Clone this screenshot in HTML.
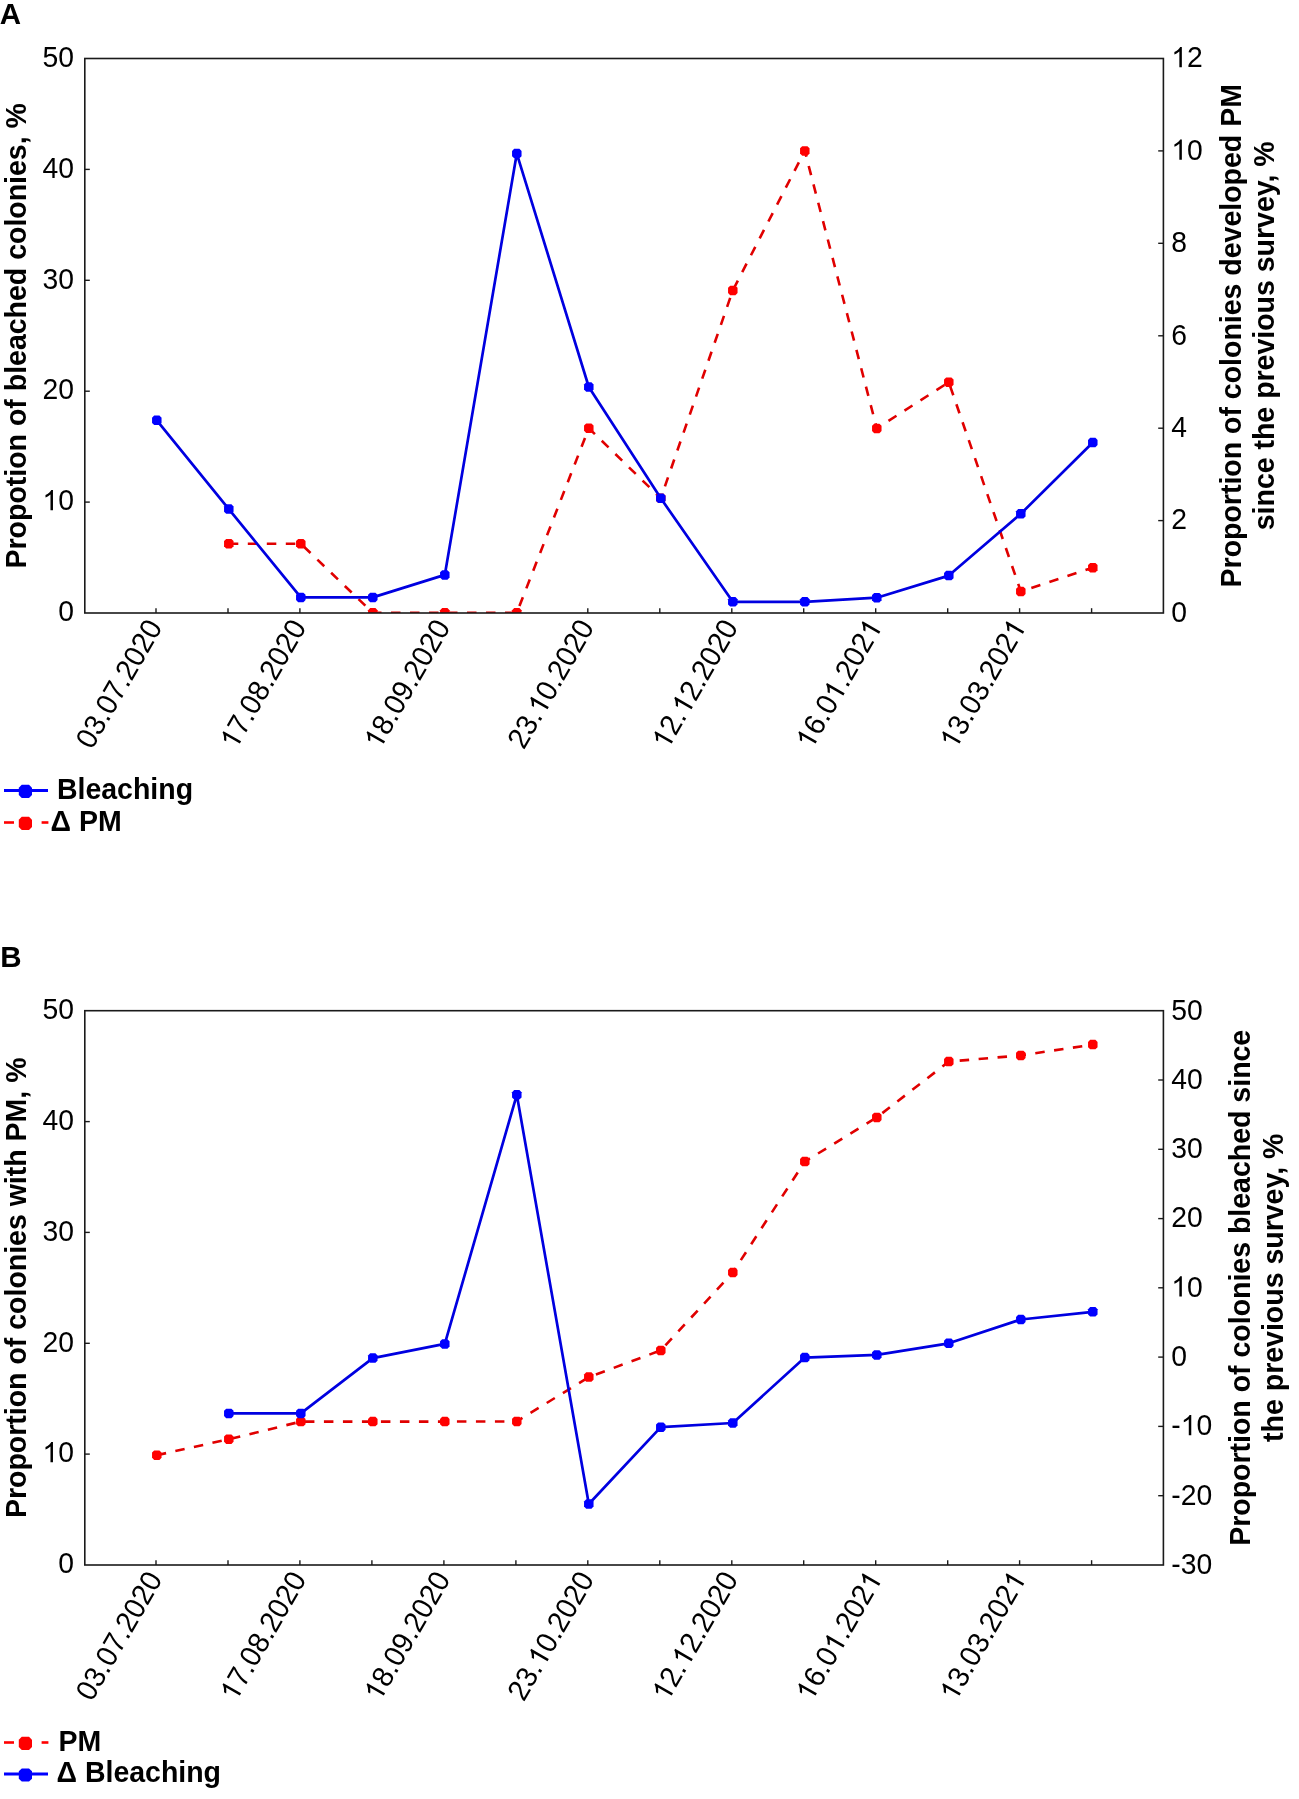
<!DOCTYPE html>
<html><head><meta charset="utf-8"><style>
html,body{margin:0;padding:0;background:#fff;}
body{width:1299px;height:1799px;overflow:hidden;}
svg{display:block;filter:blur(0.5px);}
text{font-family:"Liberation Sans",sans-serif;fill:#000;}
.r{font-size:28.3px;}
.b{font-size:28.5px;font-weight:bold;}
</style></head><body>
<svg width="1299" height="1799" viewBox="0 0 1299 1799">
<text class="b" transform="translate(-0.3,24) scale(1,1.0)" style="font-size:29.5px">A</text>
<text class="b" transform="translate(0.2,966.9) scale(1,1.0)" style="font-size:29.5px">B</text>
<clipPath id="ca"><rect x="85.0" y="58.5" width="1078.0" height="554.5"/></clipPath>
<g transform="translate(73.9,621.2) scale(1,1.04)"><text class="r" x="-15.739" y="0">0</text></g>
<line x1="85.0" y1="502.1" x2="89.8" y2="502.1" stroke="#1a1a1a" stroke-width="1.4"/>
<g transform="translate(73.9,510.3) scale(1,1.04)"><text class="r" x="-31.478" y="0"> 0</text><path d="M763,0L583,0L583,1147Q518,1085 412.5,1023Q307,961 223,930L223,1104Q374,1175 487,1276Q600,1377 643,1466L763,1466Z" transform="translate(-31.478,0) scale(0.01382,-0.01328)"/></g>
<line x1="85.0" y1="391.2" x2="89.8" y2="391.2" stroke="#1a1a1a" stroke-width="1.4"/>
<g transform="translate(73.9,399.4) scale(1,1.04)"><text class="r" x="-31.478" y="0">20</text></g>
<line x1="85.0" y1="280.3" x2="89.8" y2="280.3" stroke="#1a1a1a" stroke-width="1.4"/>
<g transform="translate(73.9,288.5) scale(1,1.04)"><text class="r" x="-31.478" y="0">30</text></g>
<line x1="85.0" y1="169.4" x2="89.8" y2="169.4" stroke="#1a1a1a" stroke-width="1.4"/>
<g transform="translate(73.9,177.6) scale(1,1.04)"><text class="r" x="-31.478" y="0">40</text></g>
<g transform="translate(73.9,66.7) scale(1,1.04)"><text class="r" x="-31.478" y="0">50</text></g>
<g transform="translate(1171.3,621.8) scale(1,1.04)"><text class="r" x="0.000" y="0">0</text></g>
<line x1="1158.2" y1="520.6" x2="1163.0" y2="520.6" stroke="#1a1a1a" stroke-width="1.4"/>
<g transform="translate(1171.3,529.4) scale(1,1.04)"><text class="r" x="0.000" y="0">2</text></g>
<line x1="1158.2" y1="428.2" x2="1163.0" y2="428.2" stroke="#1a1a1a" stroke-width="1.4"/>
<g transform="translate(1171.3,437.0) scale(1,1.04)"><text class="r" x="0.000" y="0">4</text></g>
<line x1="1158.2" y1="335.8" x2="1163.0" y2="335.8" stroke="#1a1a1a" stroke-width="1.4"/>
<g transform="translate(1171.3,344.6) scale(1,1.04)"><text class="r" x="0.000" y="0">6</text></g>
<line x1="1158.2" y1="243.3" x2="1163.0" y2="243.3" stroke="#1a1a1a" stroke-width="1.4"/>
<g transform="translate(1171.3,252.1) scale(1,1.04)"><text class="r" x="0.000" y="0">8</text></g>
<line x1="1158.2" y1="150.9" x2="1163.0" y2="150.9" stroke="#1a1a1a" stroke-width="1.4"/>
<g transform="translate(1171.3,159.7) scale(1,1.04)"><text class="r" x="0.000" y="0"> 0</text><path d="M763,0L583,0L583,1147Q518,1085 412.5,1023Q307,961 223,930L223,1104Q374,1175 487,1276Q600,1377 643,1466L763,1466Z" transform="translate(0.000,0) scale(0.01382,-0.01328)"/></g>
<g transform="translate(1171.3,67.3) scale(1,1.04)"><text class="r" x="0.000" y="0"> 2</text><path d="M763,0L583,0L583,1147Q518,1085 412.5,1023Q307,961 223,930L223,1104Q374,1175 487,1276Q600,1377 643,1466L763,1466Z" transform="translate(0.000,0) scale(0.01382,-0.01328)"/></g>
<line x1="156.0" y1="613.0" x2="156.0" y2="608.2" stroke="#1a1a1a" stroke-width="1.4"/>
<line x1="228.0" y1="613.0" x2="228.0" y2="608.2" stroke="#1a1a1a" stroke-width="1.4"/>
<line x1="299.9" y1="613.0" x2="299.9" y2="608.2" stroke="#1a1a1a" stroke-width="1.4"/>
<line x1="371.9" y1="613.0" x2="371.9" y2="608.2" stroke="#1a1a1a" stroke-width="1.4"/>
<line x1="443.9" y1="613.0" x2="443.9" y2="608.2" stroke="#1a1a1a" stroke-width="1.4"/>
<line x1="515.9" y1="613.0" x2="515.9" y2="608.2" stroke="#1a1a1a" stroke-width="1.4"/>
<line x1="587.8" y1="613.0" x2="587.8" y2="608.2" stroke="#1a1a1a" stroke-width="1.4"/>
<line x1="659.8" y1="613.0" x2="659.8" y2="608.2" stroke="#1a1a1a" stroke-width="1.4"/>
<line x1="731.8" y1="613.0" x2="731.8" y2="608.2" stroke="#1a1a1a" stroke-width="1.4"/>
<line x1="803.7" y1="613.0" x2="803.7" y2="608.2" stroke="#1a1a1a" stroke-width="1.4"/>
<line x1="875.7" y1="613.0" x2="875.7" y2="608.2" stroke="#1a1a1a" stroke-width="1.4"/>
<line x1="947.7" y1="613.0" x2="947.7" y2="608.2" stroke="#1a1a1a" stroke-width="1.4"/>
<line x1="1019.6" y1="613.0" x2="1019.6" y2="608.2" stroke="#1a1a1a" stroke-width="1.4"/>
<line x1="1091.6" y1="613.0" x2="1091.6" y2="608.2" stroke="#1a1a1a" stroke-width="1.4"/>
<path d="M228.8,543.7 L300.8,543.7 L372.8,612.8 L444.8,612.8 L516.8,612.8 L588.8,428.2 L660.8,498.3 L732.8,290.4 L804.8,150.9 L876.8,428.4 L948.8,382.2 L1020.8,591.4 L1092.8,567.7" fill="none" stroke="#e00000" stroke-width="2.6" stroke-dasharray="9.5 9.5" clip-path="url(#ca)"/>
<path d="M226.19,538.95 L231.41,538.95 L233.55,541.09 L233.55,546.31 L231.41,548.45 L226.19,548.45 L224.05,546.31 L224.05,541.09Z" fill="#ff0000" clip-path="url(#ca)"/>
<path d="M298.19,538.95 L303.41,538.95 L305.55,541.09 L305.55,546.31 L303.41,548.45 L298.19,548.45 L296.05,546.31 L296.05,541.09Z" fill="#ff0000" clip-path="url(#ca)"/>
<path d="M370.19,608.05 L375.41,608.05 L377.55,610.19 L377.55,615.41 L375.41,617.55 L370.19,617.55 L368.05,615.41 L368.05,610.19Z" fill="#ff0000" clip-path="url(#ca)"/>
<path d="M442.19,608.05 L447.41,608.05 L449.55,610.19 L449.55,615.41 L447.41,617.55 L442.19,617.55 L440.05,615.41 L440.05,610.19Z" fill="#ff0000" clip-path="url(#ca)"/>
<path d="M514.19,608.05 L519.41,608.05 L521.55,610.19 L521.55,615.41 L519.41,617.55 L514.19,617.55 L512.05,615.41 L512.05,610.19Z" fill="#ff0000" clip-path="url(#ca)"/>
<path d="M586.19,423.45 L591.41,423.45 L593.55,425.59 L593.55,430.81 L591.41,432.95 L586.19,432.95 L584.05,430.81 L584.05,425.59Z" fill="#ff0000" clip-path="url(#ca)"/>
<path d="M658.19,493.55 L663.41,493.55 L665.55,495.69 L665.55,500.91 L663.41,503.05 L658.19,503.05 L656.05,500.91 L656.05,495.69Z" fill="#ff0000" clip-path="url(#ca)"/>
<path d="M730.19,285.65 L735.41,285.65 L737.55,287.79 L737.55,293.01 L735.41,295.15 L730.19,295.15 L728.05,293.01 L728.05,287.79Z" fill="#ff0000" clip-path="url(#ca)"/>
<path d="M802.19,146.15 L807.41,146.15 L809.55,148.29 L809.55,153.51 L807.41,155.65 L802.19,155.65 L800.05,153.51 L800.05,148.29Z" fill="#ff0000" clip-path="url(#ca)"/>
<path d="M874.19,423.65 L879.41,423.65 L881.55,425.79 L881.55,431.01 L879.41,433.15 L874.19,433.15 L872.05,431.01 L872.05,425.79Z" fill="#ff0000" clip-path="url(#ca)"/>
<path d="M946.19,377.45 L951.41,377.45 L953.55,379.59 L953.55,384.81 L951.41,386.95 L946.19,386.95 L944.05,384.81 L944.05,379.59Z" fill="#ff0000" clip-path="url(#ca)"/>
<path d="M1018.19,586.65 L1023.41,586.65 L1025.55,588.79 L1025.55,594.01 L1023.41,596.15 L1018.19,596.15 L1016.05,594.01 L1016.05,588.79Z" fill="#ff0000" clip-path="url(#ca)"/>
<path d="M1090.19,562.95 L1095.41,562.95 L1097.55,565.09 L1097.55,570.31 L1095.41,572.45 L1090.19,572.45 L1088.05,570.31 L1088.05,565.09Z" fill="#ff0000" clip-path="url(#ca)"/>
<path d="M156.8,420.3 L228.8,509.1 L300.8,597.4 L372.8,597.4 L444.8,574.9 L516.8,153.6 L588.8,387.0 L660.8,498.3 L732.8,601.8 L804.8,601.8 L876.8,597.7 L948.8,575.6 L1020.8,513.8 L1092.8,442.5" fill="none" stroke="#0000e0" stroke-width="2.7" stroke-linejoin="round" clip-path="url(#ca)"/>
<path d="M154.19,415.55 L159.41,415.55 L161.55,417.69 L161.55,422.91 L159.41,425.05 L154.19,425.05 L152.05,422.91 L152.05,417.69Z" fill="#0000ff" clip-path="url(#ca)"/>
<path d="M226.19,504.35 L231.41,504.35 L233.55,506.49 L233.55,511.71 L231.41,513.85 L226.19,513.85 L224.05,511.71 L224.05,506.49Z" fill="#0000ff" clip-path="url(#ca)"/>
<path d="M298.19,592.65 L303.41,592.65 L305.55,594.79 L305.55,600.01 L303.41,602.15 L298.19,602.15 L296.05,600.01 L296.05,594.79Z" fill="#0000ff" clip-path="url(#ca)"/>
<path d="M370.19,592.65 L375.41,592.65 L377.55,594.79 L377.55,600.01 L375.41,602.15 L370.19,602.15 L368.05,600.01 L368.05,594.79Z" fill="#0000ff" clip-path="url(#ca)"/>
<path d="M442.19,570.15 L447.41,570.15 L449.55,572.29 L449.55,577.51 L447.41,579.65 L442.19,579.65 L440.05,577.51 L440.05,572.29Z" fill="#0000ff" clip-path="url(#ca)"/>
<path d="M514.19,148.85 L519.41,148.85 L521.55,150.99 L521.55,156.21 L519.41,158.35 L514.19,158.35 L512.05,156.21 L512.05,150.99Z" fill="#0000ff" clip-path="url(#ca)"/>
<path d="M586.19,382.25 L591.41,382.25 L593.55,384.39 L593.55,389.61 L591.41,391.75 L586.19,391.75 L584.05,389.61 L584.05,384.39Z" fill="#0000ff" clip-path="url(#ca)"/>
<path d="M658.19,493.55 L663.41,493.55 L665.55,495.69 L665.55,500.91 L663.41,503.05 L658.19,503.05 L656.05,500.91 L656.05,495.69Z" fill="#0000ff" clip-path="url(#ca)"/>
<path d="M730.19,597.05 L735.41,597.05 L737.55,599.19 L737.55,604.41 L735.41,606.55 L730.19,606.55 L728.05,604.41 L728.05,599.19Z" fill="#0000ff" clip-path="url(#ca)"/>
<path d="M802.19,597.05 L807.41,597.05 L809.55,599.19 L809.55,604.41 L807.41,606.55 L802.19,606.55 L800.05,604.41 L800.05,599.19Z" fill="#0000ff" clip-path="url(#ca)"/>
<path d="M874.19,592.95 L879.41,592.95 L881.55,595.09 L881.55,600.31 L879.41,602.45 L874.19,602.45 L872.05,600.31 L872.05,595.09Z" fill="#0000ff" clip-path="url(#ca)"/>
<path d="M946.19,570.85 L951.41,570.85 L953.55,572.99 L953.55,578.21 L951.41,580.35 L946.19,580.35 L944.05,578.21 L944.05,572.99Z" fill="#0000ff" clip-path="url(#ca)"/>
<path d="M1018.19,509.05 L1023.41,509.05 L1025.55,511.19 L1025.55,516.41 L1023.41,518.55 L1018.19,518.55 L1016.05,516.41 L1016.05,511.19Z" fill="#0000ff" clip-path="url(#ca)"/>
<path d="M1090.19,437.75 L1095.41,437.75 L1097.55,439.89 L1097.55,445.11 L1095.41,447.25 L1090.19,447.25 L1088.05,445.11 L1088.05,439.89Z" fill="#0000ff" clip-path="url(#ca)"/>
<rect x="84.8" y="58.5" width="1078.6000000000001" height="554.5" fill="none" stroke="#1a1a1a" stroke-width="1.6"/>
<g transform="translate(163.2,627.0) rotate(-60) scale(1,1.04)"><text class="r" x="-142.639" y="0" style="font-size:28.5px">03.07.2020</text></g>
<g transform="translate(307.1,627.0) rotate(-60) scale(1,1.04)"><text class="r" x="-142.639" y="0" style="font-size:28.5px"> 7.08.2020</text><path d="M763,0L583,0L583,1147Q518,1085 412.5,1023Q307,961 223,930L223,1104Q374,1175 487,1276Q600,1377 643,1466L763,1466Z" transform="translate(-142.639,0) scale(0.01392,-0.01337)"/></g>
<g transform="translate(451.1,627.0) rotate(-60) scale(1,1.04)"><text class="r" x="-142.639" y="0" style="font-size:28.5px"> 8.09.2020</text><path d="M763,0L583,0L583,1147Q518,1085 412.5,1023Q307,961 223,930L223,1104Q374,1175 487,1276Q600,1377 643,1466L763,1466Z" transform="translate(-142.639,0) scale(0.01392,-0.01337)"/></g>
<g transform="translate(595.0,627.0) rotate(-60) scale(1,1.04)"><text class="r" x="-142.639" y="0" style="font-size:28.5px">23. 0.2020</text><path d="M763,0L583,0L583,1147Q518,1085 412.5,1023Q307,961 223,930L223,1104Q374,1175 487,1276Q600,1377 643,1466L763,1466Z" transform="translate(-103.020,0) scale(0.01392,-0.01337)"/></g>
<g transform="translate(739.0,627.0) rotate(-60) scale(1,1.04)"><text class="r" x="-142.639" y="0" style="font-size:28.5px"> 2. 2.2020</text><path d="M763,0L583,0L583,1147Q518,1085 412.5,1023Q307,961 223,930L223,1104Q374,1175 487,1276Q600,1377 643,1466L763,1466Z" transform="translate(-142.639,0) scale(0.01392,-0.01337)"/><path d="M763,0L583,0L583,1147Q518,1085 412.5,1023Q307,961 223,930L223,1104Q374,1175 487,1276Q600,1377 643,1466L763,1466Z" transform="translate(-103.020,0) scale(0.01392,-0.01337)"/></g>
<g transform="translate(882.9,627.0) rotate(-60) scale(1,1.04)"><text class="r" x="-142.639" y="0" style="font-size:28.5px"> 6.0 .202 </text><path d="M763,0L583,0L583,1147Q518,1085 412.5,1023Q307,961 223,930L223,1104Q374,1175 487,1276Q600,1377 643,1466L763,1466Z" transform="translate(-142.639,0) scale(0.01392,-0.01337)"/><path d="M763,0L583,0L583,1147Q518,1085 412.5,1023Q307,961 223,930L223,1104Q374,1175 487,1276Q600,1377 643,1466L763,1466Z" transform="translate(-87.170,0) scale(0.01392,-0.01337)"/><path d="M763,0L583,0L583,1147Q518,1085 412.5,1023Q307,961 223,930L223,1104Q374,1175 487,1276Q600,1377 643,1466L763,1466Z" transform="translate(-15.850,0) scale(0.01392,-0.01337)"/></g>
<g transform="translate(1026.8,627.0) rotate(-60) scale(1,1.04)"><text class="r" x="-142.639" y="0" style="font-size:28.5px"> 3.03.202 </text><path d="M763,0L583,0L583,1147Q518,1085 412.5,1023Q307,961 223,930L223,1104Q374,1175 487,1276Q600,1377 643,1466L763,1466Z" transform="translate(-142.639,0) scale(0.01392,-0.01337)"/><path d="M763,0L583,0L583,1147Q518,1085 412.5,1023Q307,961 223,930L223,1104Q374,1175 487,1276Q600,1377 643,1466L763,1466Z" transform="translate(-15.850,0) scale(0.01392,-0.01337)"/></g>
<text class="b" text-anchor="middle" transform="translate(25.5,335.8) rotate(-90) scale(1,1.04)">Propotion of bleached colonies, %</text>
<text class="b" text-anchor="middle" transform="translate(1241.2,335.8) rotate(-90) scale(1,1.04)">Proportion of colonies developed PM</text>
<text class="b" text-anchor="middle" transform="translate(1274.2,335.8) rotate(-90) scale(1,1.04)">since the previous survey, %</text>
<line x1="4" y1="790.5" x2="48" y2="790.5" stroke="#0000ff" stroke-width="3"/>
<path d="M21.77,784.80 L29.03,784.80 L32.00,787.77 L32.00,795.03 L29.03,798.00 L21.77,798.00 L18.80,795.03 L18.80,787.77Z" fill="#0000ff"/>
<text class="b" transform="translate(56.9,798.7) scale(1,1.04)">Bleaching</text>
<line x1="4" y1="822.5" x2="14" y2="822.5" stroke="#ff0000" stroke-width="2.6"/>
<line x1="41.6" y1="822.5" x2="48.4" y2="822.5" stroke="#ff0000" stroke-width="2.6"/>
<path d="M21.77,816.80 L29.03,816.80 L32.00,819.77 L32.00,827.03 L29.03,830.00 L21.77,830.00 L18.80,827.03 L18.80,819.77Z" fill="#ff0000"/>
<text class="b" transform="translate(50.5,830.7) scale(1,1.04)">Δ PM</text>
<clipPath id="cb"><rect x="85.0" y="1010.7" width="1078.0" height="554.3"/></clipPath>
<g transform="translate(73.9,1573.2) scale(1,1.04)"><text class="r" x="-15.739" y="0">0</text></g>
<line x1="85.0" y1="1454.1" x2="89.8" y2="1454.1" stroke="#1a1a1a" stroke-width="1.4"/>
<g transform="translate(73.9,1462.3) scale(1,1.04)"><text class="r" x="-31.478" y="0"> 0</text><path d="M763,0L583,0L583,1147Q518,1085 412.5,1023Q307,961 223,930L223,1104Q374,1175 487,1276Q600,1377 643,1466L763,1466Z" transform="translate(-31.478,0) scale(0.01382,-0.01328)"/></g>
<line x1="85.0" y1="1343.3" x2="89.8" y2="1343.3" stroke="#1a1a1a" stroke-width="1.4"/>
<g transform="translate(73.9,1351.5) scale(1,1.04)"><text class="r" x="-31.478" y="0">20</text></g>
<line x1="85.0" y1="1232.4" x2="89.8" y2="1232.4" stroke="#1a1a1a" stroke-width="1.4"/>
<g transform="translate(73.9,1240.6) scale(1,1.04)"><text class="r" x="-31.478" y="0">30</text></g>
<line x1="85.0" y1="1121.6" x2="89.8" y2="1121.6" stroke="#1a1a1a" stroke-width="1.4"/>
<g transform="translate(73.9,1129.8) scale(1,1.04)"><text class="r" x="-31.478" y="0">40</text></g>
<g transform="translate(73.9,1018.9) scale(1,1.04)"><text class="r" x="-31.478" y="0">50</text></g>
<g transform="translate(1171.3,1573.8) scale(1,1.04)"><text class="r" x="0.000" y="0">-30</text></g>
<line x1="1158.2" y1="1495.7" x2="1163.0" y2="1495.7" stroke="#1a1a1a" stroke-width="1.4"/>
<g transform="translate(1171.3,1504.5) scale(1,1.04)"><text class="r" x="0.000" y="0">-20</text></g>
<line x1="1158.2" y1="1426.4" x2="1163.0" y2="1426.4" stroke="#1a1a1a" stroke-width="1.4"/>
<g transform="translate(1171.3,1435.2) scale(1,1.04)"><text class="r" x="0.000" y="0">- 0</text><path d="M763,0L583,0L583,1147Q518,1085 412.5,1023Q307,961 223,930L223,1104Q374,1175 487,1276Q600,1377 643,1466L763,1466Z" transform="translate(9.424,0) scale(0.01382,-0.01328)"/></g>
<line x1="1158.2" y1="1357.1" x2="1163.0" y2="1357.1" stroke="#1a1a1a" stroke-width="1.4"/>
<g transform="translate(1171.3,1365.9) scale(1,1.04)"><text class="r" x="0.000" y="0">0</text></g>
<line x1="1158.2" y1="1287.8" x2="1163.0" y2="1287.8" stroke="#1a1a1a" stroke-width="1.4"/>
<g transform="translate(1171.3,1296.6) scale(1,1.04)"><text class="r" x="0.000" y="0"> 0</text><path d="M763,0L583,0L583,1147Q518,1085 412.5,1023Q307,961 223,930L223,1104Q374,1175 487,1276Q600,1377 643,1466L763,1466Z" transform="translate(0.000,0) scale(0.01382,-0.01328)"/></g>
<line x1="1158.2" y1="1218.6" x2="1163.0" y2="1218.6" stroke="#1a1a1a" stroke-width="1.4"/>
<g transform="translate(1171.3,1227.4) scale(1,1.04)"><text class="r" x="0.000" y="0">20</text></g>
<line x1="1158.2" y1="1149.3" x2="1163.0" y2="1149.3" stroke="#1a1a1a" stroke-width="1.4"/>
<g transform="translate(1171.3,1158.1) scale(1,1.04)"><text class="r" x="0.000" y="0">30</text></g>
<line x1="1158.2" y1="1080.0" x2="1163.0" y2="1080.0" stroke="#1a1a1a" stroke-width="1.4"/>
<g transform="translate(1171.3,1088.8) scale(1,1.04)"><text class="r" x="0.000" y="0">40</text></g>
<g transform="translate(1171.3,1019.5) scale(1,1.04)"><text class="r" x="0.000" y="0">50</text></g>
<line x1="156.0" y1="1565.0" x2="156.0" y2="1560.2" stroke="#1a1a1a" stroke-width="1.4"/>
<line x1="228.0" y1="1565.0" x2="228.0" y2="1560.2" stroke="#1a1a1a" stroke-width="1.4"/>
<line x1="299.9" y1="1565.0" x2="299.9" y2="1560.2" stroke="#1a1a1a" stroke-width="1.4"/>
<line x1="371.9" y1="1565.0" x2="371.9" y2="1560.2" stroke="#1a1a1a" stroke-width="1.4"/>
<line x1="443.9" y1="1565.0" x2="443.9" y2="1560.2" stroke="#1a1a1a" stroke-width="1.4"/>
<line x1="515.9" y1="1565.0" x2="515.9" y2="1560.2" stroke="#1a1a1a" stroke-width="1.4"/>
<line x1="587.8" y1="1565.0" x2="587.8" y2="1560.2" stroke="#1a1a1a" stroke-width="1.4"/>
<line x1="659.8" y1="1565.0" x2="659.8" y2="1560.2" stroke="#1a1a1a" stroke-width="1.4"/>
<line x1="731.8" y1="1565.0" x2="731.8" y2="1560.2" stroke="#1a1a1a" stroke-width="1.4"/>
<line x1="803.7" y1="1565.0" x2="803.7" y2="1560.2" stroke="#1a1a1a" stroke-width="1.4"/>
<line x1="875.7" y1="1565.0" x2="875.7" y2="1560.2" stroke="#1a1a1a" stroke-width="1.4"/>
<line x1="947.7" y1="1565.0" x2="947.7" y2="1560.2" stroke="#1a1a1a" stroke-width="1.4"/>
<line x1="1019.6" y1="1565.0" x2="1019.6" y2="1560.2" stroke="#1a1a1a" stroke-width="1.4"/>
<line x1="1091.6" y1="1565.0" x2="1091.6" y2="1560.2" stroke="#1a1a1a" stroke-width="1.4"/>
<path d="M156.8,1455.2 L228.8,1439.2 L300.8,1421.6 L372.8,1421.6 L444.8,1421.6 L516.8,1421.4 L588.8,1377.1 L660.8,1350.4 L732.8,1272.5 L804.8,1161.6 L876.8,1117.4 L948.8,1061.6 L1020.8,1055.4 L1092.8,1044.6" fill="none" stroke="#e00000" stroke-width="2.6" stroke-dasharray="9.5 9.5" clip-path="url(#cb)"/>
<path d="M154.19,1450.45 L159.41,1450.45 L161.55,1452.59 L161.55,1457.81 L159.41,1459.95 L154.19,1459.95 L152.05,1457.81 L152.05,1452.59Z" fill="#ff0000" clip-path="url(#cb)"/>
<path d="M226.19,1434.45 L231.41,1434.45 L233.55,1436.59 L233.55,1441.81 L231.41,1443.95 L226.19,1443.95 L224.05,1441.81 L224.05,1436.59Z" fill="#ff0000" clip-path="url(#cb)"/>
<path d="M298.19,1416.85 L303.41,1416.85 L305.55,1418.99 L305.55,1424.21 L303.41,1426.35 L298.19,1426.35 L296.05,1424.21 L296.05,1418.99Z" fill="#ff0000" clip-path="url(#cb)"/>
<path d="M370.19,1416.85 L375.41,1416.85 L377.55,1418.99 L377.55,1424.21 L375.41,1426.35 L370.19,1426.35 L368.05,1424.21 L368.05,1418.99Z" fill="#ff0000" clip-path="url(#cb)"/>
<path d="M442.19,1416.85 L447.41,1416.85 L449.55,1418.99 L449.55,1424.21 L447.41,1426.35 L442.19,1426.35 L440.05,1424.21 L440.05,1418.99Z" fill="#ff0000" clip-path="url(#cb)"/>
<path d="M514.19,1416.65 L519.41,1416.65 L521.55,1418.79 L521.55,1424.01 L519.41,1426.15 L514.19,1426.15 L512.05,1424.01 L512.05,1418.79Z" fill="#ff0000" clip-path="url(#cb)"/>
<path d="M586.19,1372.35 L591.41,1372.35 L593.55,1374.49 L593.55,1379.71 L591.41,1381.85 L586.19,1381.85 L584.05,1379.71 L584.05,1374.49Z" fill="#ff0000" clip-path="url(#cb)"/>
<path d="M658.19,1345.65 L663.41,1345.65 L665.55,1347.79 L665.55,1353.01 L663.41,1355.15 L658.19,1355.15 L656.05,1353.01 L656.05,1347.79Z" fill="#ff0000" clip-path="url(#cb)"/>
<path d="M730.19,1267.75 L735.41,1267.75 L737.55,1269.89 L737.55,1275.11 L735.41,1277.25 L730.19,1277.25 L728.05,1275.11 L728.05,1269.89Z" fill="#ff0000" clip-path="url(#cb)"/>
<path d="M802.19,1156.85 L807.41,1156.85 L809.55,1158.99 L809.55,1164.21 L807.41,1166.35 L802.19,1166.35 L800.05,1164.21 L800.05,1158.99Z" fill="#ff0000" clip-path="url(#cb)"/>
<path d="M874.19,1112.65 L879.41,1112.65 L881.55,1114.79 L881.55,1120.01 L879.41,1122.15 L874.19,1122.15 L872.05,1120.01 L872.05,1114.79Z" fill="#ff0000" clip-path="url(#cb)"/>
<path d="M946.19,1056.85 L951.41,1056.85 L953.55,1058.99 L953.55,1064.21 L951.41,1066.35 L946.19,1066.35 L944.05,1064.21 L944.05,1058.99Z" fill="#ff0000" clip-path="url(#cb)"/>
<path d="M1018.19,1050.65 L1023.41,1050.65 L1025.55,1052.79 L1025.55,1058.01 L1023.41,1060.15 L1018.19,1060.15 L1016.05,1058.01 L1016.05,1052.79Z" fill="#ff0000" clip-path="url(#cb)"/>
<path d="M1090.19,1039.85 L1095.41,1039.85 L1097.55,1041.99 L1097.55,1047.21 L1095.41,1049.35 L1090.19,1049.35 L1088.05,1047.21 L1088.05,1041.99Z" fill="#ff0000" clip-path="url(#cb)"/>
<path d="M228.8,1413.4 L300.8,1413.4 L372.8,1358.1 L444.8,1343.9 L516.8,1094.8 L588.8,1504.0 L660.8,1427.2 L732.8,1423.0 L804.8,1357.6 L876.8,1354.9 L948.8,1343.3 L1020.8,1319.5 L1092.8,1311.8" fill="none" stroke="#0000e0" stroke-width="2.7" stroke-linejoin="round" clip-path="url(#cb)"/>
<path d="M226.19,1408.65 L231.41,1408.65 L233.55,1410.79 L233.55,1416.01 L231.41,1418.15 L226.19,1418.15 L224.05,1416.01 L224.05,1410.79Z" fill="#0000ff" clip-path="url(#cb)"/>
<path d="M298.19,1408.65 L303.41,1408.65 L305.55,1410.79 L305.55,1416.01 L303.41,1418.15 L298.19,1418.15 L296.05,1416.01 L296.05,1410.79Z" fill="#0000ff" clip-path="url(#cb)"/>
<path d="M370.19,1353.35 L375.41,1353.35 L377.55,1355.49 L377.55,1360.71 L375.41,1362.85 L370.19,1362.85 L368.05,1360.71 L368.05,1355.49Z" fill="#0000ff" clip-path="url(#cb)"/>
<path d="M442.19,1339.15 L447.41,1339.15 L449.55,1341.29 L449.55,1346.51 L447.41,1348.65 L442.19,1348.65 L440.05,1346.51 L440.05,1341.29Z" fill="#0000ff" clip-path="url(#cb)"/>
<path d="M514.19,1090.05 L519.41,1090.05 L521.55,1092.19 L521.55,1097.41 L519.41,1099.55 L514.19,1099.55 L512.05,1097.41 L512.05,1092.19Z" fill="#0000ff" clip-path="url(#cb)"/>
<path d="M586.19,1499.25 L591.41,1499.25 L593.55,1501.39 L593.55,1506.61 L591.41,1508.75 L586.19,1508.75 L584.05,1506.61 L584.05,1501.39Z" fill="#0000ff" clip-path="url(#cb)"/>
<path d="M658.19,1422.45 L663.41,1422.45 L665.55,1424.59 L665.55,1429.81 L663.41,1431.95 L658.19,1431.95 L656.05,1429.81 L656.05,1424.59Z" fill="#0000ff" clip-path="url(#cb)"/>
<path d="M730.19,1418.25 L735.41,1418.25 L737.55,1420.39 L737.55,1425.61 L735.41,1427.75 L730.19,1427.75 L728.05,1425.61 L728.05,1420.39Z" fill="#0000ff" clip-path="url(#cb)"/>
<path d="M802.19,1352.85 L807.41,1352.85 L809.55,1354.99 L809.55,1360.21 L807.41,1362.35 L802.19,1362.35 L800.05,1360.21 L800.05,1354.99Z" fill="#0000ff" clip-path="url(#cb)"/>
<path d="M874.19,1350.15 L879.41,1350.15 L881.55,1352.29 L881.55,1357.51 L879.41,1359.65 L874.19,1359.65 L872.05,1357.51 L872.05,1352.29Z" fill="#0000ff" clip-path="url(#cb)"/>
<path d="M946.19,1338.55 L951.41,1338.55 L953.55,1340.69 L953.55,1345.91 L951.41,1348.05 L946.19,1348.05 L944.05,1345.91 L944.05,1340.69Z" fill="#0000ff" clip-path="url(#cb)"/>
<path d="M1018.19,1314.75 L1023.41,1314.75 L1025.55,1316.89 L1025.55,1322.11 L1023.41,1324.25 L1018.19,1324.25 L1016.05,1322.11 L1016.05,1316.89Z" fill="#0000ff" clip-path="url(#cb)"/>
<path d="M1090.19,1307.05 L1095.41,1307.05 L1097.55,1309.19 L1097.55,1314.41 L1095.41,1316.55 L1090.19,1316.55 L1088.05,1314.41 L1088.05,1309.19Z" fill="#0000ff" clip-path="url(#cb)"/>
<rect x="84.8" y="1010.7" width="1078.6000000000001" height="554.3" fill="none" stroke="#1a1a1a" stroke-width="1.6"/>
<g transform="translate(163.2,1579.0) rotate(-60) scale(1,1.04)"><text class="r" x="-142.639" y="0" style="font-size:28.5px">03.07.2020</text></g>
<g transform="translate(307.1,1579.0) rotate(-60) scale(1,1.04)"><text class="r" x="-142.639" y="0" style="font-size:28.5px"> 7.08.2020</text><path d="M763,0L583,0L583,1147Q518,1085 412.5,1023Q307,961 223,930L223,1104Q374,1175 487,1276Q600,1377 643,1466L763,1466Z" transform="translate(-142.639,0) scale(0.01392,-0.01337)"/></g>
<g transform="translate(451.1,1579.0) rotate(-60) scale(1,1.04)"><text class="r" x="-142.639" y="0" style="font-size:28.5px"> 8.09.2020</text><path d="M763,0L583,0L583,1147Q518,1085 412.5,1023Q307,961 223,930L223,1104Q374,1175 487,1276Q600,1377 643,1466L763,1466Z" transform="translate(-142.639,0) scale(0.01392,-0.01337)"/></g>
<g transform="translate(595.0,1579.0) rotate(-60) scale(1,1.04)"><text class="r" x="-142.639" y="0" style="font-size:28.5px">23. 0.2020</text><path d="M763,0L583,0L583,1147Q518,1085 412.5,1023Q307,961 223,930L223,1104Q374,1175 487,1276Q600,1377 643,1466L763,1466Z" transform="translate(-103.020,0) scale(0.01392,-0.01337)"/></g>
<g transform="translate(739.0,1579.0) rotate(-60) scale(1,1.04)"><text class="r" x="-142.639" y="0" style="font-size:28.5px"> 2. 2.2020</text><path d="M763,0L583,0L583,1147Q518,1085 412.5,1023Q307,961 223,930L223,1104Q374,1175 487,1276Q600,1377 643,1466L763,1466Z" transform="translate(-142.639,0) scale(0.01392,-0.01337)"/><path d="M763,0L583,0L583,1147Q518,1085 412.5,1023Q307,961 223,930L223,1104Q374,1175 487,1276Q600,1377 643,1466L763,1466Z" transform="translate(-103.020,0) scale(0.01392,-0.01337)"/></g>
<g transform="translate(882.9,1579.0) rotate(-60) scale(1,1.04)"><text class="r" x="-142.639" y="0" style="font-size:28.5px"> 6.0 .202 </text><path d="M763,0L583,0L583,1147Q518,1085 412.5,1023Q307,961 223,930L223,1104Q374,1175 487,1276Q600,1377 643,1466L763,1466Z" transform="translate(-142.639,0) scale(0.01392,-0.01337)"/><path d="M763,0L583,0L583,1147Q518,1085 412.5,1023Q307,961 223,930L223,1104Q374,1175 487,1276Q600,1377 643,1466L763,1466Z" transform="translate(-87.170,0) scale(0.01392,-0.01337)"/><path d="M763,0L583,0L583,1147Q518,1085 412.5,1023Q307,961 223,930L223,1104Q374,1175 487,1276Q600,1377 643,1466L763,1466Z" transform="translate(-15.850,0) scale(0.01392,-0.01337)"/></g>
<g transform="translate(1026.8,1579.0) rotate(-60) scale(1,1.04)"><text class="r" x="-142.639" y="0" style="font-size:28.5px"> 3.03.202 </text><path d="M763,0L583,0L583,1147Q518,1085 412.5,1023Q307,961 223,930L223,1104Q374,1175 487,1276Q600,1377 643,1466L763,1466Z" transform="translate(-142.639,0) scale(0.01392,-0.01337)"/><path d="M763,0L583,0L583,1147Q518,1085 412.5,1023Q307,961 223,930L223,1104Q374,1175 487,1276Q600,1377 643,1466L763,1466Z" transform="translate(-15.850,0) scale(0.01392,-0.01337)"/></g>
<text class="b" text-anchor="middle" transform="translate(25.5,1287.8) rotate(-90) scale(1,1.04)">Proportion of colonies with PM, %</text>
<text class="b" text-anchor="middle" transform="translate(1250.3,1287.8) rotate(-90) scale(1,1.04)">Proportion of colonies bleached since</text>
<text class="b" text-anchor="middle" transform="translate(1283.3,1287.8) rotate(-90) scale(1,1.04)">the previous survey, %</text>
<line x1="4" y1="1742.5" x2="14" y2="1742.5" stroke="#ff0000" stroke-width="2.6"/>
<line x1="41.6" y1="1742.5" x2="48.4" y2="1742.5" stroke="#ff0000" stroke-width="2.6"/>
<path d="M21.77,1736.80 L29.03,1736.80 L32.00,1739.77 L32.00,1747.03 L29.03,1750.00 L21.77,1750.00 L18.80,1747.03 L18.80,1739.77Z" fill="#ff0000"/>
<text class="b" transform="translate(58.5,1750.7) scale(1,1.04)">PM</text>
<line x1="4" y1="1774.1" x2="48" y2="1774.1" stroke="#0000ff" stroke-width="3"/>
<path d="M21.77,1768.40 L29.03,1768.40 L32.00,1771.37 L32.00,1778.63 L29.03,1781.60 L21.77,1781.60 L18.80,1778.63 L18.80,1771.37Z" fill="#0000ff"/>
<text class="b" transform="translate(56.5,1782.3) scale(1,1.04)">Δ Bleaching</text>
</svg>
</body></html>
